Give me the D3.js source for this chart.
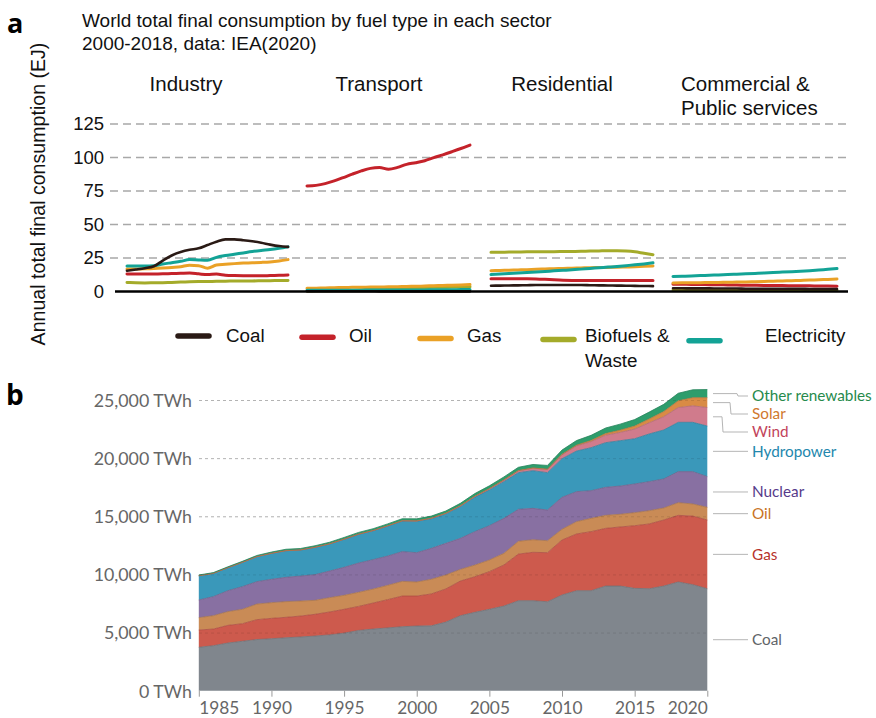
<!DOCTYPE html>
<html>
<head>
<meta charset="utf-8">
<script src="https://cdn.jsdelivr.net/npm/d3@7"></script>
<style>
  html, body { margin: 0; padding: 0; background: #fff; }
  svg { display: block; }
</style>
</head>
<body>
<svg id="chart" width="876" height="718"></svg>
<script>
// ---------- Panel a: final consumption by sector (EJ), 2000-2018 ----------
const sectorYears = [2000, 2001, 2002, 2003, 2004, 2005, 2006, 2007, 2008, 2009,
                     2010, 2011, 2012, 2013, 2014, 2015, 2016, 2017, 2018];
const sectors = ["Industry", "Transport", "Residential", "Commercial & Public services"];
const fuels = ["Coal", "Oil", "Gas", "Biofuels & Waste", "Electricity"];

const industryCoal = [15.5, 16.4, 17.4, 18.8, 23.1, 26.9, 29.4, 31.1, 32.2, 34.7, 37.2, 38.9, 38.9, 38.3, 37.5, 36.4, 35.0, 33.9, 33.3];
const industryOil = [13.1, 13.0, 13.0, 13.1, 13.2, 13.4, 13.6, 13.8, 13.2, 12.6, 13.0, 12.2, 11.9, 11.8, 11.8, 11.7, 11.9, 12.1, 12.3];
const industryGas = [16.7, 16.8, 16.9, 17.1, 17.5, 18.0, 18.5, 19.5, 19.3, 17.4, 19.8, 20.3, 20.8, 21.2, 21.4, 21.7, 22.1, 22.8, 23.8];
const industryBio = [6.7, 6.5, 6.4, 6.5, 6.6, 6.8, 7.0, 7.2, 7.4, 7.5, 7.6, 7.7, 7.8, 7.9, 7.9, 8.0, 8.1, 8.2, 8.3];
const industryElec = [19.0, 19.0, 19.0, 19.3, 20.5, 21.5, 22.5, 23.8, 23.5, 23.3, 25.5, 26.8, 27.8, 28.8, 29.8, 30.6, 31.3, 32.2, 33.3];

const transportCoal = [0.2, 0.2, 0.2, 0.2, 0.2, 0.2, 0.2, 0.2, 0.1, 0.1, 0.1, 0.1, 0.1, 0.1, 0.1, 0.1, 0.1, 0.1, 0.1];
const transportOil = [78.7, 79.2, 80.5, 82.5, 85.0, 87.6, 90.0, 91.9, 92.5, 91.2, 92.6, 94.9, 96.1, 97.6, 99.9, 102.0, 104.3, 106.7, 109.3];
const transportGas = [2.4, 2.5, 2.7, 2.8, 3.0, 3.1, 3.2, 3.3, 3.4, 3.5, 3.6, 3.8, 3.9, 4.1, 4.3, 4.5, 4.7, 4.9, 5.2];
const transportBio = [0.4, 0.5, 0.6, 0.7, 0.8, 1.0, 1.3, 1.6, 2.0, 2.2, 2.5, 2.6, 2.7, 2.9, 3.1, 3.2, 3.3, 3.5, 3.6];
const transportElec = [0.9, 0.9, 0.9, 1.0, 1.0, 1.0, 1.0, 1.1, 1.1, 1.1, 1.1, 1.2, 1.2, 1.2, 1.3, 1.3, 1.3, 1.4, 1.4];

const residentialCoal = [4.3, 4.4, 4.5, 4.6, 4.7, 4.8, 4.8, 4.8, 4.8, 4.8, 4.8, 4.7, 4.6, 4.5, 4.4, 4.3, 4.2, 4.1, 4.0];
const residentialOil = [9.5, 9.5, 9.5, 9.5, 9.5, 9.4, 9.1, 8.7, 8.4, 8.3, 8.3, 8.3, 8.3, 8.3, 8.3, 8.3, 8.3, 8.3, 8.3];
const residentialGas = [15.5, 15.7, 15.9, 16.1, 16.3, 16.6, 16.8, 17.0, 17.2, 17.4, 17.6, 17.8, 17.9, 18.0, 18.1, 18.3, 18.5, 18.8, 19.0];
const residentialBio = [29.2, 29.3, 29.4, 29.5, 29.6, 29.6, 29.7, 29.7, 29.8, 29.9, 30.0, 30.2, 30.3, 30.4, 30.4, 30.2, 29.6, 28.5, 27.5];
const residentialElec = [12.6, 13.0, 13.4, 13.8, 14.2, 14.6, 15.0, 15.4, 15.8, 16.2, 16.7, 17.2, 17.7, 18.2, 18.7, 19.3, 19.9, 20.6, 21.4];

const commercialCoal = [2.4, 2.4, 2.3, 2.3, 2.3, 2.2, 2.2, 2.2, 2.1, 2.1, 2.1, 2.0, 2.0, 2.0, 2.0, 1.9, 1.9, 1.9, 1.9];
const commercialOil = [5.5, 5.4, 5.3, 5.2, 5.1, 5.0, 4.9, 4.8, 4.7, 4.6, 4.5, 4.4, 4.4, 4.3, 4.2, 4.2, 4.1, 4.1, 4.0];
const commercialGas = [6.4, 6.5, 6.5, 6.6, 6.7, 6.8, 6.9, 7.0, 7.1, 7.3, 7.5, 7.7, 7.9, 8.1, 8.3, 8.5, 8.8, 9.0, 9.3];
const commercialBio = [1.1, 1.1, 1.1, 1.1, 1.1, 1.1, 1.1, 1.1, 1.1, 1.1, 1.2, 1.2, 1.2, 1.2, 1.2, 1.2, 1.2, 1.2, 1.2];
const commercialElec = [11.2, 11.4, 11.6, 11.9, 12.1, 12.4, 12.6, 12.9, 13.2, 13.5, 13.8, 14.2, 14.5, 14.8, 15.1, 15.5, 16.0, 16.6, 17.1];

const ejTicks = [0, 25, 50, 75, 100, 125];

// ---------- Panel b: world electricity generation by source (TWh) ----------
const genYears = [1985, 1986, 1987, 1988, 1989, 1990, 1991, 1992, 1993, 1994, 1995, 1996,
                  1997, 1998, 1999, 2000, 2001, 2002, 2003, 2004, 2005, 2006, 2007, 2008,
                  2009, 2010, 2011, 2012, 2013, 2014, 2015, 2016, 2017, 2018, 2019, 2020];
const sources = ["Coal", "Gas", "Oil", "Nuclear", "Hydropower", "Wind", "Solar", "Other renewables"];

const coalTWh = [3730, 3870, 4100, 4250, 4400, 4470, 4550, 4620, 4700, 4800, 4950, 5180,
                 5300, 5400, 5500, 5560, 5580, 5900, 6450, 6740, 7000, 7280, 7740, 7740,
                 7650, 8230, 8600, 8600, 9000, 9000, 8800, 8770, 9000, 9350, 9120, 8770];
const gasTWh = [1490, 1430, 1520, 1510, 1710, 1750, 1760, 1800, 1870, 1970, 2050, 2070,
                2240, 2430, 2640, 2580, 2740, 2850, 2980, 3060, 3240, 3530, 4010, 4160,
                4220, 4730, 4880, 5080, 4960, 5080, 5390, 5570, 5680, 5730, 5900, 5910];
const oilTWh = [1060, 1150, 1180, 1240, 1340, 1350, 1350, 1290, 1200, 1230, 1200, 1210,
                1200, 1230, 1260, 1210, 1260, 1200, 1000, 1000, 1000, 1000, 1100, 1080,
                1030, 920, 1060, 1140, 1120, 1090, 1120, 1140, 1030, 1090, 1040, 1090];
const nuclearTWh = [1520, 1640, 1800, 1950, 1930, 2010, 2090, 2150, 2210, 2290, 2410, 2520,
                    2530, 2520, 2560, 2520, 2660, 2720, 2670, 2880, 2950, 3010, 2750, 2700,
                    2640, 2750, 2580, 2380, 2410, 2430, 2470, 2500, 2500, 2670, 2780, 2640];
const hydroTWh = [2090, 2000, 1980, 2090, 2150, 2230, 2290, 2240, 2350, 2330, 2410, 2470,
                  2490, 2580, 2630, 2700, 2550, 2530, 2730, 2950, 3070, 3160, 3150, 3240,
                  3210, 3320, 3490, 3700, 3840, 3900, 3890, 4100, 4210, 4240, 4240, 4350];
const windTWh = [0, 0, 0, 0, 1, 4, 4, 5, 6, 7, 8, 9,
                 11, 16, 21, 31, 38, 52, 63, 85, 104, 133, 170, 220,
                 275, 345, 440, 520, 640, 710, 830, 960, 1140, 1270, 1420, 1590];
const solarTWh = [0, 0, 0, 0, 0, 0, 0, 0, 0, 0, 0, 0,
                  0, 0, 1, 1, 2, 2, 3, 3, 4, 6, 8, 12,
                  20, 32, 64, 100, 140, 195, 255, 330, 445, 580, 700, 850];
const otherTWh = [60, 65, 75, 85, 100, 110, 120, 125, 130, 140, 150, 155,
                  160, 170, 175, 180, 185, 200, 215, 235, 250, 265, 285, 305,
                  330, 370, 400, 440, 480, 520, 560, 590, 620, 650, 680, 700];

const twhTicks = [0, 5000, 10000, 15000, 20000, 25000];
const yearTicks = [1985, 1990, 1995, 2000, 2005, 2010, 2015, 2020];

// ---------- drawing ----------
const svg = d3.select("#chart");
const sansA = "'Liberation Sans', Arial, sans-serif";
const sansB = "Lato, 'Open Sans', sans-serif";

// panel letters
svg.append("text").attr("x", 7).attr("y", 33).text("a")
  .attr("font-family", "'Open Sans', sans-serif").attr("font-weight", 700).attr("font-size", 27).attr("fill", "#000");
svg.append("text").attr("x", 6).attr("y", 405).text("b")
  .attr("font-family", "'Open Sans', sans-serif").attr("font-weight", 700).attr("font-size", 28).attr("fill", "#000");

// ----- panel a -----
const gA = svg.append("g");
gA.append("text").attr("x", 82).attr("y", 26.5).attr("font-family", sansA).attr("font-size", 19).attr("fill", "#111")
  .text("World total final consumption by fuel type in each sector");
gA.append("text").attr("x", 82).attr("y", 49.5).attr("font-family", sansA).attr("font-size", 19).attr("fill", "#111")
  .text("2000-2018, data: IEA(2020)");

const yA = d3.scaleLinear().domain([0, 125]).range([291.5, 124]);

// horizontal dashed grid
gA.append("g").selectAll("line").data(ejTicks.filter(d => d > 0)).join("line")
  .attr("x1", 110).attr("x2", 848)
  .attr("y1", d => yA(d)).attr("y2", d => yA(d))
  .attr("stroke", "#a8a8a8").attr("stroke-width", 1.3).attr("stroke-dasharray", "8,5");

// y axis (labels only)
const axA = gA.append("g").attr("transform", "translate(104,0)")
  .call(d3.axisLeft(yA).tickValues(ejTicks).tickSize(0).tickPadding(0));
axA.select(".domain").remove();
axA.selectAll("text").attr("font-family", sansA).attr("font-size", 18.5).attr("fill", "#111");

gA.append("text")
  .attr("transform", "translate(45,194) rotate(-90)")
  .attr("text-anchor", "middle")
  .attr("font-family", sansA).attr("font-size", 19.6).attr("fill", "#111")
  .text("Annual total final consumption (EJ)");

const fuelColors = {
  "Coal": "#2a1a15",
  "Oil": "#c4222a",
  "Gas": "#eaa126",
  "Biofuels & Waste": "#a4ab2a",
  "Electricity": "#13a396"
};

const sectorSeries = [
  { name: sectors[0], range: [127, 288], series: { "Coal": industryCoal, "Oil": industryOil, "Gas": industryGas, "Biofuels & Waste": industryBio, "Electricity": industryElec } },
  { name: sectors[1], range: [307, 470], series: { "Coal": transportCoal, "Oil": transportOil, "Gas": transportGas, "Biofuels & Waste": transportBio, "Electricity": transportElec } },
  { name: sectors[2], range: [491, 653], series: { "Coal": residentialCoal, "Oil": residentialOil, "Gas": residentialGas, "Biofuels & Waste": residentialBio, "Electricity": residentialElec } },
  { name: sectors[3], range: [673, 837], series: { "Coal": commercialCoal, "Oil": commercialOil, "Gas": commercialGas, "Biofuels & Waste": commercialBio, "Electricity": commercialElec } }
];

const drawOrder = ["Biofuels & Waste", "Oil", "Gas", "Electricity", "Coal"];
sectorSeries.forEach(s => {
  const x = d3.scaleLinear().domain([sectorYears[0], sectorYears[sectorYears.length - 1]]).range(s.range);
  const line = d3.line().x((d, i) => x(sectorYears[i])).y(d => yA(d)).curve(d3.curveMonotoneX);
  drawOrder.forEach(f => {
    gA.append("path").datum(s.series[f])
      .attr("d", line)
      .attr("fill", "none")
      .attr("stroke", fuelColors[f])
      .attr("stroke-width", f === "Coal" ? 2.6 : 3)
      .attr("stroke-linecap", "round")
      .attr("stroke-linejoin", "round");
  });
});

// sector titles
const sectorTitle = [
  { lines: ["Industry"], x: 186, anchor: "middle" },
  { lines: ["Transport"], x: 379, anchor: "middle" },
  { lines: ["Residential"], x: 562, anchor: "middle" },
  { lines: ["Commercial &", "Public services"], x: 681, anchor: "start" }
];
sectorTitle.forEach(t => {
  t.lines.forEach((ln, i) => {
    gA.append("text").attr("x", t.x).attr("y", 91 + i * 24)
      .attr("text-anchor", t.anchor)
      .attr("font-family", sansA).attr("font-size", 20.5).attr("fill", "#111")
      .text(ln);
  });
});

// zero baseline
gA.append("line").attr("x1", 115).attr("x2", 848).attr("y1", yA(0)).attr("y2", yA(0))
  .attr("stroke", "#000").attr("stroke-width", 2.6);

// legend
const legendItems = [
  { key: "Coal", sx: 178, lx: 226, lines: ["Coal"] },
  { key: "Oil", sx: 302, lx: 349, lines: ["Oil"] },
  { key: "Gas", sx: 420, lx: 467, lines: ["Gas"] },
  { key: "Biofuels & Waste", sx: 543, lx: 585, lines: ["Biofuels &", "Waste"] },
  { key: "Electricity", sx: 689, lx: 765, lines: ["Electricity"] }
];
const legY = 336;
legendItems.forEach((d, i) => {
  const dy = i * 1.2;
  gA.append("line").attr("x1", d.sx).attr("x2", d.sx + 31)
    .attr("y1", legY + dy).attr("y2", legY + dy)
    .attr("stroke", fuelColors[d.key]).attr("stroke-width", 5.5).attr("stroke-linecap", "round");
  d.lines.forEach((ln, j) => {
    gA.append("text").attr("x", d.lx).attr("y", legY + 6 + j * 25)
      .attr("font-family", sansA).attr("font-size", 18.8).attr("fill", "#111")
      .text(ln);
  });
});

// ----- panel b -----
const gB = svg.append("g");
const xB = d3.scaleLinear().domain([genYears[0], genYears[genYears.length - 1]]).range([198.8, 707.3]);
const yB = d3.scaleLinear().domain([0, 25000]).range([690.7, 400]);

const table = genYears.map((yr, i) => ({
  year: yr,
  "Coal": coalTWh[i],
  "Gas": gasTWh[i],
  "Oil": oilTWh[i],
  "Nuclear": nuclearTWh[i],
  "Hydropower": hydroTWh[i],
  "Wind": windTWh[i],
  "Solar": solarTWh[i],
  "Other renewables": otherTWh[i]
}));
const stacked = d3.stack().keys(sources)(table);

const areaFill = {
  "Coal": "#80868d",
  "Gas": "#cd5a4d",
  "Oil": "#c98b56",
  "Nuclear": "#8870a2",
  "Hydropower": "#3a98ba",
  "Wind": "#d07b8c",
  "Solar": "#d98b45",
  "Other renewables": "#2e9d6c"
};
const labelFill = {
  "Coal": "#5f6468",
  "Gas": "#b7332c",
  "Oil": "#c9731f",
  "Nuclear": "#563a8a",
  "Hydropower": "#2387ad",
  "Wind": "#c2435b",
  "Solar": "#d0782e",
  "Other renewables": "#268a4c"
};

// y grid lines (white background part)
gB.append("g").selectAll("line").data(twhTicks.filter(d => d > 0)).join("line")
  .attr("x1", 199).attr("x2", 707)
  .attr("y1", d => yB(d) + 0.5).attr("y2", d => yB(d) + 0.5)
  .attr("stroke", "#c8c8c8").attr("stroke-width", 1).attr("stroke-dasharray", "3,3");

const area = d3.area()
  .x(d => xB(d.data.year))
  .y0(d => yB(d[0]))
  .y1(d => yB(d[1]));
const topLine = d3.line()
  .x(d => xB(d.data.year))
  .y(d => yB(d[1]));

gB.append("g").selectAll("path").data(stacked).join("path")
  .attr("d", area)
  .attr("fill", d => areaFill[d.key]);
gB.append("g").selectAll("path").data(stacked).join("path")
  .attr("d", topLine)
  .attr("fill", "none")
  .attr("stroke", d => d3.color(areaFill[d.key]).darker(0.5))
  .attr("stroke-width", 0.8);

// grid lines also show faintly over the areas
gB.append("g").selectAll("line").data(twhTicks.filter(d => d > 0)).join("line")
  .attr("x1", 199).attr("x2", 707)
  .attr("y1", d => yB(d) + 0.5).attr("y2", d => yB(d) + 0.5)
  .attr("stroke", "#000").attr("stroke-opacity", 0.1).attr("stroke-width", 1).attr("stroke-dasharray", "3,3");

// y axis labels
const axB = gB.append("g").attr("transform", "translate(192,0)")
  .call(d3.axisLeft(yB).tickValues(twhTicks).tickSize(0).tickPadding(0)
    .tickFormat(d => d3.format(",")(d) + " TWh"));
axB.select(".domain").remove();
axB.selectAll("text").attr("font-family", sansB).attr("font-size", 17.8).attr("fill", "#666").attr("dy", "0.36em");

// x axis
const axX = gB.append("g").attr("transform", `translate(0,${yB(0)})`)
  .call(d3.axisBottom(xB).tickValues(yearTicks).tickSize(6).tickPadding(5).tickFormat(d3.format("d")));
axX.select(".domain").remove();
axX.selectAll("line").attr("stroke", "#999");
axX.selectAll("text").attr("font-family", sansB).attr("font-size", 17.3).attr("fill", "#666")
  .attr("text-anchor", (d, i) => i === 0 ? "start" : (i === yearTicks.length - 1 ? "end" : "middle"));

// right-hand series labels with connector lines
const lastIdx = genYears.length - 1;
const labelY = {
  "Other renewables": 396,
  "Solar": 414,
  "Wind": 432,
  "Hydropower": null,
  "Nuclear": null,
  "Oil": null,
  "Gas": null,
  "Coal": null
};
const elbowX = { "Other renewables": 737, "Solar": 730, "Wind": 722 };
stacked.forEach(s => {
  const last = s[lastIdx];
  const ym = yB((last[0] + last[1]) / 2);
  const ly = labelY[s.key] == null ? ym : labelY[s.key];
  const ex = elbowX[s.key];
  const pts = ex ? [[713, ym], [ex, ym], [ex + 1, ly], [748, ly]] : [[713, ym], [748, ly]];
  gB.append("path").attr("d", d3.line()(pts))
    .attr("fill", "none").attr("stroke", "#b5b5b5").attr("stroke-width", 1);
  gB.append("text").attr("x", 752).attr("y", ly).attr("dy", "0.35em")
    .attr("font-family", sansB).attr("font-size", 15.3).attr("fill", labelFill[s.key])
    .text(s.key);
});
</script>
</body>
</html>
